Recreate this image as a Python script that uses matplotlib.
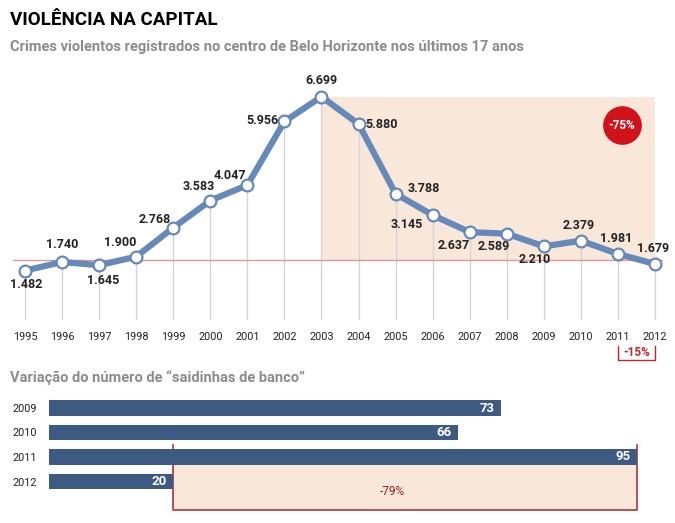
import matplotlib
matplotlib.use("Agg")
import matplotlib.pyplot as plt
from matplotlib.patches import Rectangle

plt.rcParams['font.family'] = ['Roboto', 'DejaVu Sans']

# crimes violentos, centro de BH
years = list(range(1995, 2013))
crimes = [1482, 1740, 1645, 1900, 2768, 3583, 4047, 5956, 6699, 5880,
          3788, 3145, 2637, 2589, 2210, 2379, 1981, 1679]
crime_labels = ["1.482", "1.740", "1.645", "1.900", "2.768", "3.583", "4.047", "5.956", "6.699",
                "5.880", "3.788", "3.145", "2.637", "2.589", "2.210", "2.379", "1.981", "1.679"]
# label offsets in pixels (dx, dy up)
label_off = [(1, -14), (0, 17), (4, -15), (-16, 14), (-18, 8), (-12, 14), (-18, 10), (-22, 1),
             (0, 16), (23, 0), (28, 5), (-26, -9), (-16, -13), (-13, -13), (-9, -13),
             (-2, 15), (-2, 15), (-2, 16)]
ref_level = 1790

# saidinhas de banco
bar_years = ["2009", "2010", "2011", "2012"]
bar_values = [73, 66, 95, 20]

line_col = "#6589b9"
bar_col = "#3d5b82"
shade_col = "#f9e7d9"
red = "#c0262d"
grey_txt = "#8c8c8c"

fig = plt.figure(figsize=(6.75, 5.23), dpi=100)

fig.text(10/675, 1 - 20/523, "VIOLÊNCIA NA CAPITAL", fontsize=13.5, fontweight="bold",
         va="center", ha="left")
fig.text(10/675, 1 - 47/523,
         "Crimes violentos registrados no centro de Belo Horizonte nos últimos 17 anos",
         fontsize=10.5, fontweight="bold", color=grey_txt, va="center", ha="left")
fig.text(10/675, 1 - 378/523, "Variação do número de “saidinhas de banco”",
         fontsize=10.5, fontweight="bold", color=grey_txt, va="center", ha="left")

# ---- line chart ----
ax = fig.add_axes([0, (523 - 320)/523, 1, 240/523])
x0 = 1995 - 25/37.06
ax.set_xlim(x0, x0 + 675/37.06)
ax.set_ylim(0, 7200)
for s in ax.spines.values():
    s.set_visible(False)
ax.set_yticks([])
ax.set_xticks(years)
ax.set_xticklabels([str(y) for y in years], fontsize=7.8, color="#222222")
ax.tick_params(axis="x", length=0, pad=9)

ax.add_patch(Rectangle((2003, ref_level), 9, max(crimes) - ref_level,
                       facecolor=shade_col, edgecolor="none", zorder=0))
ax.vlines(years, 0, crimes, color="#d5d5d5", lw=1, zorder=1)
ax.axhline(ref_level, xmin=13/675, xmax=662/675, color="#d89a9a", lw=1, zorder=2)
ax.plot(years, crimes, color=line_col, lw=4.5, zorder=3, solid_joinstyle="round",
        marker="o", ms=8.5, mfc="white", mec=line_col, mew=1.6)
for yr, v, lab, (dx, dy) in zip(years, crimes, crime_labels, label_off):
    ax.annotate(lab, (yr, v), xytext=(dx, dy), textcoords="offset pixels",
                ha="center", va="center", fontsize=9, fontweight="bold", color="#222222")

ax.scatter([2011.11], [5847], s=720, color="#d0121b", zorder=4)
ax.text(2011.11, 5847, "-75%", color="white", fontsize=8.5, fontweight="bold",
        ha="center", va="center", zorder=5)

# -15% bracket below 2011-2012
ax.plot([2011, 2011, 2012, 2012], [-780, -1200, -1200, -780], color=red, lw=1, clip_on=False)
ax.text(2011.5, -990, "-15%", color=red, fontsize=8.5, fontweight="bold", ha="center", va="center")

# ---- bar chart ----
ax2 = fig.add_axes([49/675, (523 - 515)/523, 588/675, 120/523])
ax2.set_xlim(0, 95)
ax2.set_ylim((515 - 408)/24.5, -13/24.5)
for s in ax2.spines.values():
    s.set_visible(False)
ax2.set_xticks([])
pos = list(range(len(bar_years)))
ax2.set_yticks(pos)
ax2.set_yticklabels(bar_years, fontsize=7.8, ha="left", color="#222222")
ax2.tick_params(axis="y", length=0, pad=26)
ax2.barh(pos, bar_values, height=0.62, color=bar_col, zorder=3)
for p, v in zip(pos, bar_values):
    ax2.text(v - 1, p, str(v), color="white", fontsize=9.5, fontweight="bold",
             ha="right", va="center", zorder=4)

lo, hi = bar_values[3], bar_values[2]
box_top, box_bot = 1.5, 4.15
ax2.add_patch(Rectangle((lo, 2.3), hi - lo, box_bot - 2.3, facecolor=shade_col,
                        edgecolor="none", zorder=1))
ax2.plot([lo, lo, hi, hi], [box_top, box_bot, box_bot, box_top], color="#a8343a",
         lw=1.2, zorder=2, clip_on=False)
ax2.text((lo + hi) / 2 - 2, 3.4, "-79%", color="#9a1c22", fontsize=8.5, ha="center", va="center")

fig.savefig("out.png", dpi=100)
